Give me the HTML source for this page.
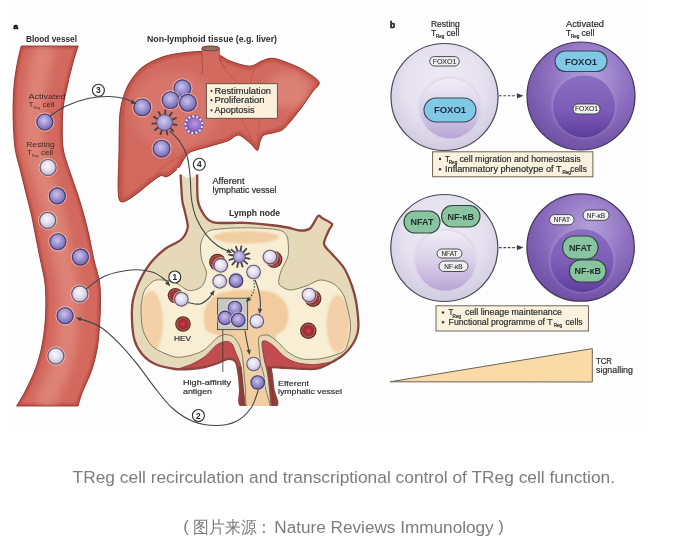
<!DOCTYPE html>
<html><head><meta charset="utf-8">
<style>
html,body{margin:0;padding:0;background:#fff;width:685px;height:549px;overflow:hidden}
svg{display:block;will-change:transform}
text{font-family:"Liberation Sans",sans-serif}
.lb{font-weight:bold;fill:#2b2b30}
.lt{fill:#2a2a2e;stroke:#2a2a2e;stroke-width:0.18}
.cap{fill:#7c7c7c;font-size:16.8px}
</style></head><body>
<svg width="685" height="549" viewBox="0 0 685 549">
<defs>
  <radialGradient id="gp" cx="0.45" cy="0.4" r="0.6">
    <stop offset="0" stop-color="#cac3ea"/>
    <stop offset="0.55" stop-color="#9a90cf"/>
    <stop offset="1" stop-color="#6f64ad"/>
  </radialGradient>
  <radialGradient id="gw" cx="0.45" cy="0.4" r="0.6">
    <stop offset="0" stop-color="#faf8fc"/>
    <stop offset="0.55" stop-color="#e2ddec"/>
    <stop offset="1" stop-color="#b9b0cf"/>
  </radialGradient>
  <radialGradient id="gapo" cx="0.55" cy="0.45" r="0.6">
    <stop offset="0" stop-color="#b89ae0"/>
    <stop offset="0.6" stop-color="#8a6ac6"/>
    <stop offset="1" stop-color="#6444a8"/>
  </radialGradient>
  <radialGradient id="ghev" cx="0.5" cy="0.5" r="0.5">
    <stop offset="0" stop-color="#e04848"/>
    <stop offset="0.55" stop-color="#b81e2a"/>
    <stop offset="0.75" stop-color="#d98a7a"/>
    <stop offset="1" stop-color="#7e2a22"/>
  </radialGradient>
  <radialGradient id="grest" cx="0.5" cy="0.4" r="0.62">
    <stop offset="0" stop-color="#efedf6"/>
    <stop offset="0.6" stop-color="#e5e1ef"/>
    <stop offset="1" stop-color="#cfc8df"/>
  </radialGradient>
  <linearGradient id="grestn" x1="0" y1="0" x2="0" y2="1">
    <stop offset="0" stop-color="#f0edf6"/>
    <stop offset="0.5" stop-color="#d9d0e9"/>
    <stop offset="1" stop-color="#b8a6d6"/>
  </linearGradient>
  <radialGradient id="gact" cx="0.58" cy="0.32" r="0.72">
    <stop offset="0" stop-color="#b5a2da"/>
    <stop offset="0.5" stop-color="#8f72c2"/>
    <stop offset="1" stop-color="#6c4da2"/>
  </radialGradient>
  <linearGradient id="gactn" x1="0" y1="0" x2="0" y2="1">
    <stop offset="0" stop-color="#8a6ec2"/>
    <stop offset="0.55" stop-color="#7c5cb6"/>
    <stop offset="1" stop-color="#5e3e9c"/>
  </linearGradient>
  <filter id="bl1" x="-50%" y="-50%" width="200%" height="200%"><feGaussianBlur stdDeviation="1.2"/></filter>
  <filter id="bl2" x="-50%" y="-50%" width="200%" height="200%"><feGaussianBlur stdDeviation="3"/></filter>
  <filter id="bl4" x="-50%" y="-50%" width="200%" height="200%"><feGaussianBlur stdDeviation="5"/></filter>
  <marker id="ah" viewBox="0 0 10 10" refX="8" refY="5" markerWidth="5.5" markerHeight="5.5" orient="auto-start-reverse" markerUnits="userSpaceOnUse">
    <path d="M0,1 L10,5 L0,9 Z" fill="#3f4842"/>
  </marker>
</defs>

<rect x="8" y="0" width="640" height="431.5" fill="#fefdfd"/>
<path d="M21.2,46.0 C20.6,48.7 18.7,55.7 17.5,62.0 C16.3,68.3 14.9,76.7 14.2,84.0 C13.5,91.3 13.2,98.7 13.1,106.0 C13.0,113.3 13.1,120.7 13.5,128.0 C13.9,135.3 14.1,142.7 15.3,150.0 C16.5,157.3 19.0,164.7 20.8,172.0 C22.6,179.3 24.4,186.7 26.2,194.0 C28.0,201.3 30.1,208.7 31.7,216.0 C33.3,223.3 34.5,230.7 36.0,238.0 C37.5,245.3 38.9,252.7 40.4,260.0 C41.9,267.3 43.9,274.7 44.8,282.0 C45.7,289.3 45.9,296.7 45.9,304.0 C45.9,311.3 45.5,318.7 44.8,326.0 C44.1,333.3 43.1,340.7 41.5,348.0 C39.9,355.3 37.8,362.6 35.0,370.0 C32.2,377.4 27.6,386.5 24.5,392.5 C21.4,398.5 17.9,403.8 16.6,406.0 L78.0,406.0 C78.7,403.8 80.0,398.5 82.3,392.5 C84.6,386.5 89.3,377.4 91.8,370.0 C94.3,362.6 96.0,355.3 97.3,348.0 C98.6,340.7 99.0,333.3 99.5,326.0 C100.0,318.7 100.5,311.3 100.5,304.0 C100.5,296.7 100.6,289.3 99.5,282.0 C98.4,274.7 95.7,267.3 94.0,260.0 C92.3,252.7 91.2,245.3 89.6,238.0 C88.0,230.7 86.2,223.3 84.2,216.0 C82.2,208.7 80.0,201.3 77.6,194.0 C75.2,186.7 72.4,179.3 70.0,172.0 C67.6,164.7 64.7,157.3 63.4,150.0 C62.1,142.7 62.3,135.3 62.3,128.0 C62.3,120.7 62.5,113.3 63.4,106.0 C64.3,98.7 66.2,91.3 67.8,84.0 C69.4,76.7 71.5,68.3 73.2,62.0 C74.9,55.7 77.4,48.7 78.2,46.0 Z" fill="#d3695e"/>
<clipPath id="vclip"><path d="M21.2,46.0 C20.6,48.7 18.7,55.7 17.5,62.0 C16.3,68.3 14.9,76.7 14.2,84.0 C13.5,91.3 13.2,98.7 13.1,106.0 C13.0,113.3 13.1,120.7 13.5,128.0 C13.9,135.3 14.1,142.7 15.3,150.0 C16.5,157.3 19.0,164.7 20.8,172.0 C22.6,179.3 24.4,186.7 26.2,194.0 C28.0,201.3 30.1,208.7 31.7,216.0 C33.3,223.3 34.5,230.7 36.0,238.0 C37.5,245.3 38.9,252.7 40.4,260.0 C41.9,267.3 43.9,274.7 44.8,282.0 C45.7,289.3 45.9,296.7 45.9,304.0 C45.9,311.3 45.5,318.7 44.8,326.0 C44.1,333.3 43.1,340.7 41.5,348.0 C39.9,355.3 37.8,362.6 35.0,370.0 C32.2,377.4 27.6,386.5 24.5,392.5 C21.4,398.5 17.9,403.8 16.6,406.0 L78.0,406.0 C78.7,403.8 80.0,398.5 82.3,392.5 C84.6,386.5 89.3,377.4 91.8,370.0 C94.3,362.6 96.0,355.3 97.3,348.0 C98.6,340.7 99.0,333.3 99.5,326.0 C100.0,318.7 100.5,311.3 100.5,304.0 C100.5,296.7 100.6,289.3 99.5,282.0 C98.4,274.7 95.7,267.3 94.0,260.0 C92.3,252.7 91.2,245.3 89.6,238.0 C88.0,230.7 86.2,223.3 84.2,216.0 C82.2,208.7 80.0,201.3 77.6,194.0 C75.2,186.7 72.4,179.3 70.0,172.0 C67.6,164.7 64.7,157.3 63.4,150.0 C62.1,142.7 62.3,135.3 62.3,128.0 C62.3,120.7 62.5,113.3 63.4,106.0 C64.3,98.7 66.2,91.3 67.8,84.0 C69.4,76.7 71.5,68.3 73.2,62.0 C74.9,55.7 77.4,48.7 78.2,46.0 Z"/></clipPath>
<g clip-path="url(#vclip)"><path d="M21.2,46.0 C20.6,48.7 18.7,55.7 17.5,62.0 C16.3,68.3 14.9,76.7 14.2,84.0 C13.5,91.3 13.2,98.7 13.1,106.0 C13.0,113.3 13.1,120.7 13.5,128.0 C13.9,135.3 14.1,142.7 15.3,150.0 C16.5,157.3 19.0,164.7 20.8,172.0 C22.6,179.3 24.4,186.7 26.2,194.0 C28.0,201.3 30.1,208.7 31.7,216.0 C33.3,223.3 34.5,230.7 36.0,238.0 C37.5,245.3 38.9,252.7 40.4,260.0 C41.9,267.3 43.9,274.7 44.8,282.0 C45.7,289.3 45.9,296.7 45.9,304.0 C45.9,311.3 45.5,318.7 44.8,326.0 C44.1,333.3 43.1,340.7 41.5,348.0 C39.9,355.3 37.8,362.6 35.0,370.0 C32.2,377.4 27.6,386.5 24.5,392.5 C21.4,398.5 17.9,403.8 16.6,406.0 L78.0,406.0 C78.7,403.8 80.0,398.5 82.3,392.5 C84.6,386.5 89.3,377.4 91.8,370.0 C94.3,362.6 96.0,355.3 97.3,348.0 C98.6,340.7 99.0,333.3 99.5,326.0 C100.0,318.7 100.5,311.3 100.5,304.0 C100.5,296.7 100.6,289.3 99.5,282.0 C98.4,274.7 95.7,267.3 94.0,260.0 C92.3,252.7 91.2,245.3 89.6,238.0 C88.0,230.7 86.2,223.3 84.2,216.0 C82.2,208.7 80.0,201.3 77.6,194.0 C75.2,186.7 72.4,179.3 70.0,172.0 C67.6,164.7 64.7,157.3 63.4,150.0 C62.1,142.7 62.3,135.3 62.3,128.0 C62.3,120.7 62.5,113.3 63.4,106.0 C64.3,98.7 66.2,91.3 67.8,84.0 C69.4,76.7 71.5,68.3 73.2,62.0 C74.9,55.7 77.4,48.7 78.2,46.0 Z" fill="none" stroke="#c04e46" stroke-width="5" filter="url(#bl1)"/><path d="M45.7,46.0 C45.0,48.7 42.8,55.7 41.4,62.0 C39.9,68.3 38.2,76.7 37.0,84.0 C35.8,91.3 34.8,98.7 34.2,106.0 C33.7,113.3 33.7,120.7 33.9,128.0 C34.1,135.3 34.1,142.7 35.4,150.0 C36.6,157.3 39.3,164.7 41.4,172.0 C43.5,179.3 45.8,186.7 47.9,194.0 C50.0,201.3 52.1,208.7 54.0,216.0 C55.8,223.3 57.3,230.7 58.8,238.0 C60.3,245.3 61.6,252.7 63.2,260.0 C64.8,267.3 67.2,274.7 68.2,282.0 C69.2,289.3 69.2,296.7 69.2,304.0 C69.2,311.3 68.8,318.7 68.2,326.0 C67.5,333.3 66.9,340.7 65.4,348.0 C63.9,355.3 62.1,362.6 59.4,370.0 C56.7,377.4 52.1,386.5 49.4,392.5 C46.7,398.5 44.3,403.8 43.3,406.0" fill="none" stroke="#e08a7e" stroke-width="20" filter="url(#bl4)" opacity="0.8"/></g>
<path d="M21.2,46.0 C20.6,48.7 18.7,55.7 17.5,62.0 C16.3,68.3 14.9,76.7 14.2,84.0 C13.5,91.3 13.2,98.7 13.1,106.0 C13.0,113.3 13.1,120.7 13.5,128.0 C13.9,135.3 14.1,142.7 15.3,150.0 C16.5,157.3 19.0,164.7 20.8,172.0 C22.6,179.3 24.4,186.7 26.2,194.0 C28.0,201.3 30.1,208.7 31.7,216.0 C33.3,223.3 34.5,230.7 36.0,238.0 C37.5,245.3 38.9,252.7 40.4,260.0 C41.9,267.3 43.9,274.7 44.8,282.0 C45.7,289.3 45.9,296.7 45.9,304.0 C45.9,311.3 45.5,318.7 44.8,326.0 C44.1,333.3 43.1,340.7 41.5,348.0 C39.9,355.3 37.8,362.6 35.0,370.0 C32.2,377.4 27.6,386.5 24.5,392.5 C21.4,398.5 17.9,403.8 16.6,406.0 L78.0,406.0 C78.7,403.8 80.0,398.5 82.3,392.5 C84.6,386.5 89.3,377.4 91.8,370.0 C94.3,362.6 96.0,355.3 97.3,348.0 C98.6,340.7 99.0,333.3 99.5,326.0 C100.0,318.7 100.5,311.3 100.5,304.0 C100.5,296.7 100.6,289.3 99.5,282.0 C98.4,274.7 95.7,267.3 94.0,260.0 C92.3,252.7 91.2,245.3 89.6,238.0 C88.0,230.7 86.2,223.3 84.2,216.0 C82.2,208.7 80.0,201.3 77.6,194.0 C75.2,186.7 72.4,179.3 70.0,172.0 C67.6,164.7 64.7,157.3 63.4,150.0 C62.1,142.7 62.3,135.3 62.3,128.0 C62.3,120.7 62.5,113.3 63.4,106.0 C64.3,98.7 66.2,91.3 67.8,84.0 C69.4,76.7 71.5,68.3 73.2,62.0 C74.9,55.7 77.4,48.7 78.2,46.0 Z" fill="none" stroke="#8f3a31" stroke-width="0.9"/>
<circle cx="44.8" cy="122.0" r="9.1" fill="none" stroke="#f3d9cf" stroke-width="1.2" opacity="0.55"/><circle cx="44.8" cy="122.0" r="8.0" fill="url(#gp)" stroke="#443a72" stroke-width="1.1"/>
<circle cx="48.1" cy="167.5" r="9.1" fill="none" stroke="#f3d9cf" stroke-width="1.2" opacity="0.55"/><circle cx="48.1" cy="167.5" r="8.0" fill="url(#gw)" stroke="#625a72" stroke-width="1.1"/>
<circle cx="57.3" cy="195.9" r="9.1" fill="none" stroke="#f3d9cf" stroke-width="1.2" opacity="0.55"/><circle cx="57.3" cy="195.9" r="8.0" fill="url(#gp)" stroke="#443a72" stroke-width="1.1"/>
<circle cx="47.7" cy="220.4" r="9.1" fill="none" stroke="#f3d9cf" stroke-width="1.2" opacity="0.55"/><circle cx="47.7" cy="220.4" r="8.0" fill="url(#gw)" stroke="#625a72" stroke-width="1.1"/>
<circle cx="57.9" cy="241.8" r="9.1" fill="none" stroke="#f3d9cf" stroke-width="1.2" opacity="0.55"/><circle cx="57.9" cy="241.8" r="8.0" fill="url(#gp)" stroke="#443a72" stroke-width="1.1"/>
<circle cx="80.4" cy="257.1" r="9.1" fill="none" stroke="#f3d9cf" stroke-width="1.2" opacity="0.55"/><circle cx="80.4" cy="257.1" r="8.0" fill="url(#gp)" stroke="#443a72" stroke-width="1.1"/>
<circle cx="79.8" cy="293.9" r="9.1" fill="none" stroke="#f3d9cf" stroke-width="1.2" opacity="0.55"/><circle cx="79.8" cy="293.9" r="8.0" fill="url(#gw)" stroke="#625a72" stroke-width="1.1"/>
<circle cx="65.1" cy="315.7" r="9.1" fill="none" stroke="#f3d9cf" stroke-width="1.2" opacity="0.55"/><circle cx="65.1" cy="315.7" r="8.0" fill="url(#gp)" stroke="#443a72" stroke-width="1.1"/>
<circle cx="55.9" cy="356.0" r="9.1" fill="none" stroke="#f3d9cf" stroke-width="1.2" opacity="0.55"/><circle cx="55.9" cy="356.0" r="8.0" fill="url(#gw)" stroke="#625a72" stroke-width="1.1"/>
<text x="28.4" y="99" font-size="8" fill="#402a26" textLength="37" lengthAdjust="spacingAndGlyphs">Activated</text>
<text x="28.4" y="106.7" font-size="8" fill="#402a26">T</text><text x="33.5" y="108.5" font-size="3.5" fill="#402a26">Reg</text><text x="42.6" y="106.7" font-size="8" fill="#402a26">cell</text>
<text x="26.2" y="147" font-size="8" fill="#402a26" textLength="28.4" lengthAdjust="spacingAndGlyphs">Resting</text>
<text x="27" y="154.8" font-size="8" fill="#402a26">T</text><text x="32" y="156.6" font-size="3.5" fill="#402a26">Reg</text><text x="41" y="154.8" font-size="8" fill="#402a26">cell</text>
<text x="13.6" y="28.8" class="lb" font-size="8" fill="#111" stroke="#111" stroke-width="0.7">a</text>
<text x="26" y="42" class="lb" font-size="8.8" textLength="51" lengthAdjust="spacingAndGlyphs">Blood vessel</text>
<text x="147" y="42" class="lb" font-size="8.8" textLength="130" lengthAdjust="spacingAndGlyphs">Non-lymphoid tissue (e.g. liver)</text>
<path d="M202.0,51.5 C208.2,51.7 214.8,53.6 219.0,55.0 C223.2,56.4 225.4,59.3 230.0,61.0 C234.6,62.7 244.8,66.3 249.7,66.2 C254.6,66.1 259.1,61.7 262.8,60.5 C266.5,59.3 269.4,57.6 274.3,58.4 C279.2,59.2 290.4,63.8 295.6,66.0 C300.8,68.2 305.1,70.9 308.7,73.4 C312.3,75.9 318.8,79.7 319.3,82.6 C319.8,85.5 314.8,88.6 312.0,92.5 C309.2,96.4 304.7,103.5 300.5,108.9 C296.3,114.3 287.8,125.0 284.0,128.5 C280.2,132.0 278.4,131.3 275.4,132.3 C272.4,133.3 266.3,133.8 264.0,135.1 C261.7,136.4 261.2,138.7 260.2,141.0 C259.2,143.3 258.9,150.0 257.4,150.3 C255.9,150.6 252.8,145.3 250.0,143.0 C247.2,140.7 241.7,135.4 238.4,135.1 C235.1,134.8 232.4,139.1 228.0,140.8 C223.6,142.5 214.7,144.8 209.0,146.5 C203.3,148.2 193.8,150.2 190.0,152.2 C186.2,154.2 185.1,157.7 183.4,160.0 C181.7,162.3 181.3,165.0 178.9,167.5 C176.5,170.0 170.1,175.4 167.4,176.6 C164.7,177.8 163.3,174.8 160.8,175.7 C158.3,176.6 154.9,179.3 151.0,182.3 C147.1,185.3 139.0,192.4 134.6,195.4 C130.2,198.4 124.0,202.7 121.5,202.0 C119.0,201.3 118.6,197.9 118.2,190.5 C117.8,183.1 118.8,163.6 119.0,152.8 C119.2,142.0 119.1,126.1 119.6,118.3 C120.1,110.5 120.9,106.1 122.3,101.0 C123.7,95.9 125.8,89.0 128.7,84.0 C131.6,79.0 136.8,71.9 141.4,68.0 C146.0,64.1 154.1,60.2 159.6,58.0 C165.1,55.8 171.6,54.5 178.0,53.5 C184.4,52.5 195.8,51.3 202.0,51.5 Z" fill="#d1695f"/>
<clipPath id="lclip"><path d="M202.0,51.5 C208.2,51.7 214.8,53.6 219.0,55.0 C223.2,56.4 225.4,59.3 230.0,61.0 C234.6,62.7 244.8,66.3 249.7,66.2 C254.6,66.1 259.1,61.7 262.8,60.5 C266.5,59.3 269.4,57.6 274.3,58.4 C279.2,59.2 290.4,63.8 295.6,66.0 C300.8,68.2 305.1,70.9 308.7,73.4 C312.3,75.9 318.8,79.7 319.3,82.6 C319.8,85.5 314.8,88.6 312.0,92.5 C309.2,96.4 304.7,103.5 300.5,108.9 C296.3,114.3 287.8,125.0 284.0,128.5 C280.2,132.0 278.4,131.3 275.4,132.3 C272.4,133.3 266.3,133.8 264.0,135.1 C261.7,136.4 261.2,138.7 260.2,141.0 C259.2,143.3 258.9,150.0 257.4,150.3 C255.9,150.6 252.8,145.3 250.0,143.0 C247.2,140.7 241.7,135.4 238.4,135.1 C235.1,134.8 232.4,139.1 228.0,140.8 C223.6,142.5 214.7,144.8 209.0,146.5 C203.3,148.2 193.8,150.2 190.0,152.2 C186.2,154.2 185.1,157.7 183.4,160.0 C181.7,162.3 181.3,165.0 178.9,167.5 C176.5,170.0 170.1,175.4 167.4,176.6 C164.7,177.8 163.3,174.8 160.8,175.7 C158.3,176.6 154.9,179.3 151.0,182.3 C147.1,185.3 139.0,192.4 134.6,195.4 C130.2,198.4 124.0,202.7 121.5,202.0 C119.0,201.3 118.6,197.9 118.2,190.5 C117.8,183.1 118.8,163.6 119.0,152.8 C119.2,142.0 119.1,126.1 119.6,118.3 C120.1,110.5 120.9,106.1 122.3,101.0 C123.7,95.9 125.8,89.0 128.7,84.0 C131.6,79.0 136.8,71.9 141.4,68.0 C146.0,64.1 154.1,60.2 159.6,58.0 C165.1,55.8 171.6,54.5 178.0,53.5 C184.4,52.5 195.8,51.3 202.0,51.5 Z"/></clipPath>
<g clip-path="url(#lclip)">
<path d="M202.0,51.5 C208.2,51.7 214.8,53.6 219.0,55.0 C223.2,56.4 225.4,59.3 230.0,61.0 C234.6,62.7 244.8,66.3 249.7,66.2 C254.6,66.1 259.1,61.7 262.8,60.5 C266.5,59.3 269.4,57.6 274.3,58.4 C279.2,59.2 290.4,63.8 295.6,66.0 C300.8,68.2 305.1,70.9 308.7,73.4 C312.3,75.9 318.8,79.7 319.3,82.6 C319.8,85.5 314.8,88.6 312.0,92.5 C309.2,96.4 304.7,103.5 300.5,108.9 C296.3,114.3 287.8,125.0 284.0,128.5 C280.2,132.0 278.4,131.3 275.4,132.3 C272.4,133.3 266.3,133.8 264.0,135.1 C261.7,136.4 261.2,138.7 260.2,141.0 C259.2,143.3 258.9,150.0 257.4,150.3 C255.9,150.6 252.8,145.3 250.0,143.0 C247.2,140.7 241.7,135.4 238.4,135.1 C235.1,134.8 232.4,139.1 228.0,140.8 C223.6,142.5 214.7,144.8 209.0,146.5 C203.3,148.2 193.8,150.2 190.0,152.2 C186.2,154.2 185.1,157.7 183.4,160.0 C181.7,162.3 181.3,165.0 178.9,167.5 C176.5,170.0 170.1,175.4 167.4,176.6 C164.7,177.8 163.3,174.8 160.8,175.7 C158.3,176.6 154.9,179.3 151.0,182.3 C147.1,185.3 139.0,192.4 134.6,195.4 C130.2,198.4 124.0,202.7 121.5,202.0 C119.0,201.3 118.6,197.9 118.2,190.5 C117.8,183.1 118.8,163.6 119.0,152.8 C119.2,142.0 119.1,126.1 119.6,118.3 C120.1,110.5 120.9,106.1 122.3,101.0 C123.7,95.9 125.8,89.0 128.7,84.0 C131.6,79.0 136.8,71.9 141.4,68.0 C146.0,64.1 154.1,60.2 159.6,58.0 C165.1,55.8 171.6,54.5 178.0,53.5 C184.4,52.5 195.8,51.3 202.0,51.5 Z" fill="none" stroke="#c2524a" stroke-width="7" filter="url(#bl1)"/>
<ellipse cx="175" cy="110" rx="45" ry="40" fill="#dc8074" filter="url(#bl4)" opacity="0.55"/>
<ellipse cx="288" cy="90" rx="22" ry="18" fill="#df887c" filter="url(#bl4)" opacity="0.8"/>
<path d="M120,60 C125,150 122,190 121,205" fill="none" stroke="#c85548" stroke-width="6" filter="url(#bl2)" opacity="0.6"/>
<path d="M219,55 C222,66 226,74 240,84 C250,95 248,110 242,120" fill="none" stroke="#b8544a" stroke-width="0.7"/>
<path d="M262.8,60.5 C252,70 248,78 253,95 C258,112 262,125 257,136" fill="none" stroke="#b8544a" stroke-width="0.7"/>
<path d="M202,52 C203,62 204,68 201,75" fill="none" stroke="#b8544a" stroke-width="0.7"/>
<path d="M151,182.3 C156,170 170,160 185,155 C200,150 215,147 235,138" fill="none" stroke="#b8544a" stroke-width="0.7"/>
<path d="M242,119 C246,128 250,136 257,150" fill="none" stroke="#b8544a" stroke-width="0.6"/>
</g>
<path d="M202.0,51.5 C208.2,51.7 214.8,53.6 219.0,55.0 C223.2,56.4 225.4,59.3 230.0,61.0 C234.6,62.7 244.8,66.3 249.7,66.2 C254.6,66.1 259.1,61.7 262.8,60.5 C266.5,59.3 269.4,57.6 274.3,58.4 C279.2,59.2 290.4,63.8 295.6,66.0 C300.8,68.2 305.1,70.9 308.7,73.4 C312.3,75.9 318.8,79.7 319.3,82.6 C319.8,85.5 314.8,88.6 312.0,92.5 C309.2,96.4 304.7,103.5 300.5,108.9 C296.3,114.3 287.8,125.0 284.0,128.5 C280.2,132.0 278.4,131.3 275.4,132.3 C272.4,133.3 266.3,133.8 264.0,135.1 C261.7,136.4 261.2,138.7 260.2,141.0 C259.2,143.3 258.9,150.0 257.4,150.3 C255.9,150.6 252.8,145.3 250.0,143.0 C247.2,140.7 241.7,135.4 238.4,135.1 C235.1,134.8 232.4,139.1 228.0,140.8 C223.6,142.5 214.7,144.8 209.0,146.5 C203.3,148.2 193.8,150.2 190.0,152.2 C186.2,154.2 185.1,157.7 183.4,160.0 C181.7,162.3 181.3,165.0 178.9,167.5 C176.5,170.0 170.1,175.4 167.4,176.6 C164.7,177.8 163.3,174.8 160.8,175.7 C158.3,176.6 154.9,179.3 151.0,182.3 C147.1,185.3 139.0,192.4 134.6,195.4 C130.2,198.4 124.0,202.7 121.5,202.0 C119.0,201.3 118.6,197.9 118.2,190.5 C117.8,183.1 118.8,163.6 119.0,152.8 C119.2,142.0 119.1,126.1 119.6,118.3 C120.1,110.5 120.9,106.1 122.3,101.0 C123.7,95.9 125.8,89.0 128.7,84.0 C131.6,79.0 136.8,71.9 141.4,68.0 C146.0,64.1 154.1,60.2 159.6,58.0 C165.1,55.8 171.6,54.5 178.0,53.5 C184.4,52.5 195.8,51.3 202.0,51.5 Z" fill="none" stroke="#93392f" stroke-width="1"/>
<path d="M202,48.5 L202,60 C203,66 202.5,70 201.8,74 L221,74 C220,68 220,62 219.3,48.5 Z" fill="#d1695f"/>
<path d="M202,48.5 L202,60 C203,66 202.5,70 201.8,74" fill="none" stroke="#a8473e" stroke-width="0.8"/>
<path d="M219.3,48.5 L219.5,58 C220,63 222,66 226.4,67.3" fill="none" stroke="#a8473e" stroke-width="0.8"/>
<ellipse cx="210.6" cy="48.4" rx="8.7" ry="2.3" fill="#a0685a" stroke="#5e5244" stroke-width="1.1"/>
<rect x="206.4" y="83.7" width="71" height="34.6" fill="#f9efdb" stroke="#5a4b42" stroke-width="0.9"/>
<circle cx="211.5" cy="91.1" r="1.1" fill="#3a3a3a"/>
<text x="214.5" y="93.7" font-size="8.6" class="lt" textLength="56.5" lengthAdjust="spacingAndGlyphs">Restimulation</text>
<circle cx="211.5" cy="100.2" r="1.1" fill="#3a3a3a"/>
<text x="214.5" y="102.8" font-size="8.6" class="lt" textLength="50.0" lengthAdjust="spacingAndGlyphs">Proliferation</text>
<circle cx="211.5" cy="110.3" r="1.1" fill="#3a3a3a"/>
<text x="214.5" y="112.9" font-size="8.6" class="lt" textLength="40.0" lengthAdjust="spacingAndGlyphs">Apoptosis</text>
<line x1="172.4" y1="124.2" x2="176.6" y2="125.0" stroke="#45404a" stroke-width="1.8" stroke-linecap="round"/><line x1="170.3" y1="128.2" x2="173.3" y2="131.1" stroke="#45404a" stroke-width="1.8" stroke-linecap="round"/><line x1="166.4" y1="130.4" x2="167.4" y2="134.5" stroke="#45404a" stroke-width="1.8" stroke-linecap="round"/><line x1="161.9" y1="130.1" x2="160.5" y2="134.1" stroke="#45404a" stroke-width="1.8" stroke-linecap="round"/><line x1="158.3" y1="127.5" x2="154.9" y2="130.0" stroke="#45404a" stroke-width="1.8" stroke-linecap="round"/><line x1="156.6" y1="123.3" x2="152.4" y2="123.6" stroke="#45404a" stroke-width="1.8" stroke-linecap="round"/><line x1="157.5" y1="118.9" x2="153.8" y2="116.9" stroke="#45404a" stroke-width="1.8" stroke-linecap="round"/><line x1="160.7" y1="115.6" x2="158.6" y2="112.0" stroke="#45404a" stroke-width="1.8" stroke-linecap="round"/><line x1="165.1" y1="114.6" x2="165.3" y2="110.4" stroke="#45404a" stroke-width="1.8" stroke-linecap="round"/><line x1="169.3" y1="116.1" x2="171.8" y2="112.7" stroke="#45404a" stroke-width="1.8" stroke-linecap="round"/><line x1="172.1" y1="119.7" x2="176.0" y2="118.2" stroke="#45404a" stroke-width="1.8" stroke-linecap="round"/><circle cx="164.6" cy="122.6" r="8.0" fill="url(#gp)" stroke="#4a3f6a" stroke-width="0.6"/><circle cx="164.6" cy="122.6" r="7.2" fill="#ffffff" opacity="0.18"/>
<circle cx="193.8" cy="124.6" r="8.9" fill="url(#gapo)" stroke="#4a3480" stroke-width="1"/>
<circle cx="201.8" cy="127.1" r="1.5" fill="#eae4f6" stroke="#5e4a98" stroke-width="0.5"/>
<circle cx="199.8" cy="130.5" r="1.5" fill="#eae4f6" stroke="#5e4a98" stroke-width="0.5"/>
<circle cx="196.3" cy="132.6" r="1.5" fill="#eae4f6" stroke="#5e4a98" stroke-width="0.5"/>
<circle cx="192.3" cy="132.9" r="1.5" fill="#eae4f6" stroke="#5e4a98" stroke-width="0.5"/>
<circle cx="188.6" cy="131.2" r="1.5" fill="#eae4f6" stroke="#5e4a98" stroke-width="0.5"/>
<circle cx="186.1" cy="128.1" r="1.5" fill="#eae4f6" stroke="#5e4a98" stroke-width="0.5"/>
<circle cx="185.4" cy="124.1" r="1.5" fill="#eae4f6" stroke="#5e4a98" stroke-width="0.5"/>
<circle cx="186.6" cy="120.3" r="1.5" fill="#eae4f6" stroke="#5e4a98" stroke-width="0.5"/>
<circle cx="189.4" cy="117.4" r="1.5" fill="#eae4f6" stroke="#5e4a98" stroke-width="0.5"/>
<circle cx="193.3" cy="116.2" r="1.5" fill="#eae4f6" stroke="#5e4a98" stroke-width="0.5"/>
<circle cx="197.2" cy="116.9" r="1.5" fill="#eae4f6" stroke="#5e4a98" stroke-width="0.5"/>
<circle cx="200.4" cy="119.4" r="1.5" fill="#eae4f6" stroke="#5e4a98" stroke-width="0.5"/>
<circle cx="202.1" cy="123.1" r="1.5" fill="#eae4f6" stroke="#5e4a98" stroke-width="0.5"/>
<circle cx="182.4" cy="88.3" r="9.5" fill="none" stroke="#f3d9cf" stroke-width="1.2" opacity="0.55"/><circle cx="182.4" cy="88.3" r="8.4" fill="url(#gp)" stroke="#443a72" stroke-width="1.1"/>
<circle cx="170.6" cy="100.1" r="9.5" fill="none" stroke="#f3d9cf" stroke-width="1.2" opacity="0.55"/><circle cx="170.6" cy="100.1" r="8.4" fill="url(#gp)" stroke="#443a72" stroke-width="1.1"/>
<circle cx="187.9" cy="102.8" r="9.5" fill="none" stroke="#f3d9cf" stroke-width="1.2" opacity="0.55"/><circle cx="187.9" cy="102.8" r="8.4" fill="url(#gp)" stroke="#443a72" stroke-width="1.1"/>
<circle cx="142.3" cy="107.4" r="9.5" fill="none" stroke="#f3d9cf" stroke-width="1.2" opacity="0.55"/><circle cx="142.3" cy="107.4" r="8.4" fill="url(#gp)" stroke="#443a72" stroke-width="1.1"/>
<circle cx="161.6" cy="148.7" r="9.5" fill="none" stroke="#f3d9cf" stroke-width="1.2" opacity="0.55"/><circle cx="161.6" cy="148.7" r="8.4" fill="url(#gp)" stroke="#443a72" stroke-width="1.1"/>
<clipPath id="ncut"><rect x="0" y="174.6" width="685" height="231.3"/></clipPath><g clip-path="url(#ncut)">
<path d="M197.2,168.0 C197.3,172.3 196.9,193.7 197.8,200.0 C198.7,206.3 202.2,212.3 204.3,215.3 C206.4,218.3 209.9,221.3 213.3,222.3 C216.7,223.3 225.8,222.9 230.0,223.0 C234.2,223.1 239.7,222.5 245.0,222.8 C250.3,223.1 264.3,224.4 270.0,225.0 C275.7,225.6 283.6,226.8 287.6,227.5 C291.6,228.2 297.0,230.4 300.0,230.5 C303.0,230.6 307.6,230.4 310.0,228.5 C312.4,226.6 316.4,217.4 318.0,216.0 C319.6,214.6 320.1,216.9 322.0,218.0 C323.9,219.1 331.1,222.4 332.0,224.0 C332.9,225.6 330.1,227.3 329.0,230.0 C327.9,232.7 323.6,240.8 324.0,244.0 C324.4,247.2 329.3,250.8 332.0,254.0 C334.7,257.2 341.3,263.7 344.0,268.0 C346.7,272.3 350.3,281.2 352.0,286.0 C353.7,290.8 355.7,298.4 356.5,304.0 C357.3,309.6 358.7,322.8 358.3,328.0 C357.9,333.2 355.6,339.3 353.4,343.0 C351.2,346.7 346.5,352.6 341.9,356.0 C337.3,359.4 324.6,366.5 319.2,368.2 C313.8,369.9 306.4,368.9 301.7,368.8 C297.0,368.7 288.2,368.0 284.2,367.8 C280.2,367.6 273.2,366.5 271.5,367.5 C269.8,368.5 271.5,372.0 271.8,375.0 C272.1,378.0 273.0,385.9 273.5,390.0 C274.0,394.1 280.0,403.9 275.8,406.0 C271.6,408.1 246.4,408.1 241.7,406.0 C237.0,403.9 240.6,394.1 240.2,390.0 C239.8,385.9 239.4,378.7 238.8,375.0 C238.2,371.3 237.4,364.1 236.0,362.0 C234.6,359.9 231.0,358.7 228.4,358.9 C225.8,359.1 219.8,362.4 216.7,363.5 C213.6,364.6 208.6,366.3 205.0,367.0 C201.4,367.7 194.0,368.7 190.0,369.0 C186.0,369.3 179.7,369.7 175.0,369.0 C170.3,368.3 159.4,366.0 155.0,364.0 C150.6,362.0 144.7,357.2 142.0,354.0 C139.3,350.8 135.8,344.5 134.5,340.0 C133.2,335.5 132.2,325.3 132.0,320.0 C131.8,314.7 131.9,305.3 133.0,300.0 C134.1,294.7 137.7,284.9 140.0,280.0 C142.3,275.1 147.2,267.1 150.5,263.0 C153.8,258.9 161.7,251.6 165.0,249.0 C168.3,246.4 172.8,244.7 175.0,243.4 C177.2,242.1 179.9,240.9 181.4,239.5 C182.9,238.1 185.1,234.9 186.0,233.0 C186.9,231.1 188.0,228.6 187.8,225.5 C187.6,222.4 185.2,213.4 184.5,210.0 C183.8,206.6 182.8,205.6 182.2,200.0 C181.6,194.4 180.5,172.3 180.2,168.0 Z" fill="#e6d9ba"/>
<clipPath id="nclip"><path d="M197.2,168.0 C197.3,172.3 196.9,193.7 197.8,200.0 C198.7,206.3 202.2,212.3 204.3,215.3 C206.4,218.3 209.9,221.3 213.3,222.3 C216.7,223.3 225.8,222.9 230.0,223.0 C234.2,223.1 239.7,222.5 245.0,222.8 C250.3,223.1 264.3,224.4 270.0,225.0 C275.7,225.6 283.6,226.8 287.6,227.5 C291.6,228.2 297.0,230.4 300.0,230.5 C303.0,230.6 307.6,230.4 310.0,228.5 C312.4,226.6 316.4,217.4 318.0,216.0 C319.6,214.6 320.1,216.9 322.0,218.0 C323.9,219.1 331.1,222.4 332.0,224.0 C332.9,225.6 330.1,227.3 329.0,230.0 C327.9,232.7 323.6,240.8 324.0,244.0 C324.4,247.2 329.3,250.8 332.0,254.0 C334.7,257.2 341.3,263.7 344.0,268.0 C346.7,272.3 350.3,281.2 352.0,286.0 C353.7,290.8 355.7,298.4 356.5,304.0 C357.3,309.6 358.7,322.8 358.3,328.0 C357.9,333.2 355.6,339.3 353.4,343.0 C351.2,346.7 346.5,352.6 341.9,356.0 C337.3,359.4 324.6,366.5 319.2,368.2 C313.8,369.9 306.4,368.9 301.7,368.8 C297.0,368.7 288.2,368.0 284.2,367.8 C280.2,367.6 273.2,366.5 271.5,367.5 C269.8,368.5 271.5,372.0 271.8,375.0 C272.1,378.0 273.0,385.9 273.5,390.0 C274.0,394.1 280.0,403.9 275.8,406.0 C271.6,408.1 246.4,408.1 241.7,406.0 C237.0,403.9 240.6,394.1 240.2,390.0 C239.8,385.9 239.4,378.7 238.8,375.0 C238.2,371.3 237.4,364.1 236.0,362.0 C234.6,359.9 231.0,358.7 228.4,358.9 C225.8,359.1 219.8,362.4 216.7,363.5 C213.6,364.6 208.6,366.3 205.0,367.0 C201.4,367.7 194.0,368.7 190.0,369.0 C186.0,369.3 179.7,369.7 175.0,369.0 C170.3,368.3 159.4,366.0 155.0,364.0 C150.6,362.0 144.7,357.2 142.0,354.0 C139.3,350.8 135.8,344.5 134.5,340.0 C133.2,335.5 132.2,325.3 132.0,320.0 C131.8,314.7 131.9,305.3 133.0,300.0 C134.1,294.7 137.7,284.9 140.0,280.0 C142.3,275.1 147.2,267.1 150.5,263.0 C153.8,258.9 161.7,251.6 165.0,249.0 C168.3,246.4 172.8,244.7 175.0,243.4 C177.2,242.1 179.9,240.9 181.4,239.5 C182.9,238.1 185.1,234.9 186.0,233.0 C186.9,231.1 188.0,228.6 187.8,225.5 C187.6,222.4 185.2,213.4 184.5,210.0 C183.8,206.6 182.8,205.6 182.2,200.0 C181.6,194.4 180.5,172.3 180.2,168.0 Z"/></clipPath>
<g clip-path="url(#nclip)">
<path d="M180.0,372.0 C181.3,371.9 186.7,371.4 190.0,371.0 C193.3,370.6 201.4,369.7 205.0,369.0 C208.6,368.3 213.6,366.6 216.7,365.5 C219.8,364.4 225.8,361.2 228.4,361.0 C231.0,360.8 234.6,360.1 236.0,364.0 C237.4,367.9 238.3,383.9 239.0,390.0 C239.7,396.1 240.7,407.3 241.0,410.0 L246.0,410.0 C245.7,407.3 244.2,396.0 243.5,390.0 C242.8,384.0 241.6,370.1 240.5,365.0 C239.4,359.9 236.5,354.7 235.4,351.9 C234.3,349.1 233.2,345.1 231.9,343.7 C230.6,342.3 228.0,341.2 226.0,341.4 C224.0,341.6 219.5,342.9 216.7,344.9 C213.9,346.9 208.3,354.0 205.0,356.5 C201.7,359.0 195.6,362.3 192.0,364.0 C188.4,365.7 179.9,368.3 178.0,369.0 Z" fill="#c24c50"/>
<path d="M246.0,410.0 C245.7,407.3 244.2,396.0 243.5,390.0 C242.8,384.0 241.6,370.1 240.5,365.0 C239.4,359.9 236.5,354.7 235.4,351.9 C234.3,349.1 233.2,345.1 231.9,343.7 C230.6,342.3 228.0,341.2 226.0,341.4 C224.0,341.6 219.5,342.9 216.7,344.9 C213.9,346.9 208.3,354.0 205.0,356.5 C201.7,359.0 195.6,362.3 192.0,364.0 C188.4,365.7 179.9,368.3 178.0,369.0" fill="none" stroke="#8a3a36" stroke-width="0.9"/>
<path d="M237,366 L241.5,367 L243.5,390 L245,410 L241,410 L239.5,390 Z" fill="#8a3c36"/>
<path d="M279.0,410.0 C278.3,406.7 275.1,390.6 274.0,385.0 C272.9,379.4 269.6,370.2 271.0,368.0 C272.4,365.8 280.1,368.1 284.2,368.5 C288.3,368.9 297.0,370.6 301.7,370.8 C306.4,371.0 314.8,370.7 319.2,370.2 C323.6,369.7 331.6,367.9 335.0,366.7 C338.4,365.5 343.7,361.8 345.0,361.0 L340.0,358.0 C339.3,358.4 338.5,360.3 335.0,361.2 C331.5,362.1 318.6,364.5 313.4,364.7 C308.2,364.9 299.8,363.5 295.9,362.4 C292.0,361.3 287.2,358.7 284.2,356.5 C281.2,354.3 276.0,348.0 273.7,346.0 C271.4,344.0 268.3,341.9 266.7,341.4 C265.1,340.9 262.3,340.0 262.0,342.5 C261.7,345.0 263.5,355.7 264.3,360.0 C265.1,364.3 266.8,368.3 267.8,375.0 C268.8,381.7 271.0,405.3 271.5,410.0 Z" fill="#c24c50"/>
<path d="M340.0,358.0 C339.3,358.4 338.5,360.3 335.0,361.2 C331.5,362.1 318.6,364.5 313.4,364.7 C308.2,364.9 299.8,363.5 295.9,362.4 C292.0,361.3 287.2,358.7 284.2,356.5 C281.2,354.3 276.0,348.0 273.7,346.0 C271.4,344.0 268.3,341.9 266.7,341.4 C265.1,340.9 262.3,340.0 262.0,342.5 C261.7,345.0 263.5,355.7 264.3,360.0 C265.1,364.3 266.8,368.3 267.8,375.0 C268.8,381.7 271.0,405.3 271.5,410.0" fill="none" stroke="#8a3a36" stroke-width="0.9"/>
<path d="M267,366 L271,367 L273.5,390 L276.5,410 L272.3,410 L269.8,385 Z" fill="#8a3c36"/>
<path d="M203.5,236.5 C204.8,234.4 207.0,231.6 210.0,230.5 C213.0,229.4 221.3,228.9 226.0,228.5 C230.7,228.1 239.7,227.8 245.0,227.8 C250.3,227.8 261.1,228.1 266.0,228.5 C270.9,228.9 279.1,229.7 282.0,231.0 C284.9,232.3 286.8,235.1 287.6,238.4 C288.4,241.7 288.9,251.7 288.0,256.0 C287.1,260.3 282.2,267.3 281.0,271.0 C279.8,274.7 277.8,281.5 279.0,284.0 C280.2,286.5 286.4,289.7 290.0,290.0 C293.6,290.3 302.0,287.3 306.0,286.0 C310.0,284.7 316.3,280.3 320.0,280.0 C323.7,279.7 330.8,281.9 334.0,284.0 C337.2,286.1 341.9,291.2 344.0,296.0 C346.1,300.8 349.2,314.9 350.0,320.0 C350.8,325.1 350.7,330.0 350.0,334.0 C349.3,338.0 347.0,347.2 345.0,350.0 C343.0,352.8 338.4,353.8 335.0,355.0 C331.6,356.2 323.6,358.4 319.2,358.9 C314.8,359.4 305.9,359.8 301.7,358.9 C297.5,358.0 290.8,354.1 287.7,351.9 C284.6,349.7 280.9,344.7 278.4,342.5 C275.9,340.3 271.2,336.4 269.0,335.5 C266.8,334.6 263.4,335.0 262.0,335.5 C260.6,336.0 258.7,335.7 258.5,339.0 C258.3,342.3 259.6,355.2 260.3,360.0 C261.0,364.8 263.0,371.0 263.8,375.0 C264.6,379.0 265.2,385.3 266.0,390.0 C266.8,394.7 271.9,407.3 269.5,410.0 C267.1,412.7 251.2,412.7 248.0,410.0 C244.8,407.3 246.0,394.7 245.5,390.0 C245.0,385.3 244.6,379.6 244.2,375.0 C243.8,370.4 243.1,359.5 242.4,355.4 C241.7,351.3 240.2,347.0 238.9,344.5 C237.6,342.0 234.9,337.8 233.0,336.5 C231.1,335.2 227.1,334.3 224.9,334.5 C222.7,334.7 219.4,336.0 216.7,338.0 C214.0,340.0 208.3,347.1 205.0,349.4 C201.7,351.7 196.0,354.0 192.0,355.0 C188.0,356.0 180.2,358.1 175.0,357.0 C169.8,355.9 157.3,350.6 153.0,347.0 C148.7,343.4 144.6,335.2 143.0,330.0 C141.4,324.8 140.9,312.9 141.0,308.0 C141.1,303.1 142.6,295.9 143.5,293.0 C144.4,290.1 146.3,287.7 148.0,286.0 C149.7,284.3 152.6,280.6 156.0,280.0 C159.4,279.4 169.3,280.4 173.7,281.8 C178.1,283.2 185.2,290.0 189.0,290.6 C192.8,291.2 199.7,288.5 202.0,286.2 C204.3,283.9 206.5,276.5 206.5,273.0 C206.5,269.5 202.6,263.6 201.8,260.0 C201.0,256.4 200.3,249.1 200.5,246.0 C200.7,242.9 202.2,238.6 203.5,236.5 Z" fill="#f7eed4"/>
<clipPath id="cclip"><path d="M203.5,236.5 C204.8,234.4 207.0,231.6 210.0,230.5 C213.0,229.4 221.3,228.9 226.0,228.5 C230.7,228.1 239.7,227.8 245.0,227.8 C250.3,227.8 261.1,228.1 266.0,228.5 C270.9,228.9 279.1,229.7 282.0,231.0 C284.9,232.3 286.8,235.1 287.6,238.4 C288.4,241.7 288.9,251.7 288.0,256.0 C287.1,260.3 282.2,267.3 281.0,271.0 C279.8,274.7 277.8,281.5 279.0,284.0 C280.2,286.5 286.4,289.7 290.0,290.0 C293.6,290.3 302.0,287.3 306.0,286.0 C310.0,284.7 316.3,280.3 320.0,280.0 C323.7,279.7 330.8,281.9 334.0,284.0 C337.2,286.1 341.9,291.2 344.0,296.0 C346.1,300.8 349.2,314.9 350.0,320.0 C350.8,325.1 350.7,330.0 350.0,334.0 C349.3,338.0 347.0,347.2 345.0,350.0 C343.0,352.8 338.4,353.8 335.0,355.0 C331.6,356.2 323.6,358.4 319.2,358.9 C314.8,359.4 305.9,359.8 301.7,358.9 C297.5,358.0 290.8,354.1 287.7,351.9 C284.6,349.7 280.9,344.7 278.4,342.5 C275.9,340.3 271.2,336.4 269.0,335.5 C266.8,334.6 263.4,335.0 262.0,335.5 C260.6,336.0 258.7,335.7 258.5,339.0 C258.3,342.3 259.6,355.2 260.3,360.0 C261.0,364.8 263.0,371.0 263.8,375.0 C264.6,379.0 265.2,385.3 266.0,390.0 C266.8,394.7 271.9,407.3 269.5,410.0 C267.1,412.7 251.2,412.7 248.0,410.0 C244.8,407.3 246.0,394.7 245.5,390.0 C245.0,385.3 244.6,379.6 244.2,375.0 C243.8,370.4 243.1,359.5 242.4,355.4 C241.7,351.3 240.2,347.0 238.9,344.5 C237.6,342.0 234.9,337.8 233.0,336.5 C231.1,335.2 227.1,334.3 224.9,334.5 C222.7,334.7 219.4,336.0 216.7,338.0 C214.0,340.0 208.3,347.1 205.0,349.4 C201.7,351.7 196.0,354.0 192.0,355.0 C188.0,356.0 180.2,358.1 175.0,357.0 C169.8,355.9 157.3,350.6 153.0,347.0 C148.7,343.4 144.6,335.2 143.0,330.0 C141.4,324.8 140.9,312.9 141.0,308.0 C141.1,303.1 142.6,295.9 143.5,293.0 C144.4,290.1 146.3,287.7 148.0,286.0 C149.7,284.3 152.6,280.6 156.0,280.0 C159.4,279.4 169.3,280.4 173.7,281.8 C178.1,283.2 185.2,290.0 189.0,290.6 C192.8,291.2 199.7,288.5 202.0,286.2 C204.3,283.9 206.5,276.5 206.5,273.0 C206.5,269.5 202.6,263.6 201.8,260.0 C201.0,256.4 200.3,249.1 200.5,246.0 C200.7,242.9 202.2,238.6 203.5,236.5 Z"/></clipPath>
<g clip-path="url(#cclip)">
<ellipse cx="246" cy="237.2" rx="33" ry="6.3" fill="#f1cda2" filter="url(#bl1)"/>
<path d="M206,330 C200,315 206,296 224,292 C236,289 258,289 270,292 C290,297 292,318 284,330 C275,338 265,334 258,340 L236,340 C228,334 215,338 206,330 Z" fill="#f2cb9e" filter="url(#bl1)"/>
<ellipse cx="151" cy="322" rx="12" ry="31" fill="#f2c89c" filter="url(#bl1)" opacity="0.8"/>
<ellipse cx="338" cy="324" rx="11.5" ry="29" fill="#f2c89c" filter="url(#bl1)" opacity="0.8"/>
<rect x="236" y="330" width="40" height="85" fill="#f2cfa0"/>
</g>
<path d="M203.5,236.5 C204.8,234.4 207.0,231.6 210.0,230.5 C213.0,229.4 221.3,228.9 226.0,228.5 C230.7,228.1 239.7,227.8 245.0,227.8 C250.3,227.8 261.1,228.1 266.0,228.5 C270.9,228.9 279.1,229.7 282.0,231.0 C284.9,232.3 286.8,235.1 287.6,238.4 C288.4,241.7 288.9,251.7 288.0,256.0 C287.1,260.3 282.2,267.3 281.0,271.0 C279.8,274.7 277.8,281.5 279.0,284.0 C280.2,286.5 286.4,289.7 290.0,290.0 C293.6,290.3 302.0,287.3 306.0,286.0 C310.0,284.7 316.3,280.3 320.0,280.0 C323.7,279.7 330.8,281.9 334.0,284.0 C337.2,286.1 341.9,291.2 344.0,296.0 C346.1,300.8 349.2,314.9 350.0,320.0 C350.8,325.1 350.7,330.0 350.0,334.0 C349.3,338.0 347.0,347.2 345.0,350.0 C343.0,352.8 338.4,353.8 335.0,355.0 C331.6,356.2 323.6,358.4 319.2,358.9 C314.8,359.4 305.9,359.8 301.7,358.9 C297.5,358.0 290.8,354.1 287.7,351.9 C284.6,349.7 280.9,344.7 278.4,342.5 C275.9,340.3 271.2,336.4 269.0,335.5 C266.8,334.6 263.4,335.0 262.0,335.5 C260.6,336.0 258.7,335.7 258.5,339.0 C258.3,342.3 259.6,355.2 260.3,360.0 C261.0,364.8 263.0,371.0 263.8,375.0 C264.6,379.0 265.2,385.3 266.0,390.0 C266.8,394.7 271.9,407.3 269.5,410.0 C267.1,412.7 251.2,412.7 248.0,410.0 C244.8,407.3 246.0,394.7 245.5,390.0 C245.0,385.3 244.6,379.6 244.2,375.0 C243.8,370.4 243.1,359.5 242.4,355.4 C241.7,351.3 240.2,347.0 238.9,344.5 C237.6,342.0 234.9,337.8 233.0,336.5 C231.1,335.2 227.1,334.3 224.9,334.5 C222.7,334.7 219.4,336.0 216.7,338.0 C214.0,340.0 208.3,347.1 205.0,349.4 C201.7,351.7 196.0,354.0 192.0,355.0 C188.0,356.0 180.2,358.1 175.0,357.0 C169.8,355.9 157.3,350.6 153.0,347.0 C148.7,343.4 144.6,335.2 143.0,330.0 C141.4,324.8 140.9,312.9 141.0,308.0 C141.1,303.1 142.6,295.9 143.5,293.0 C144.4,290.1 146.3,287.7 148.0,286.0 C149.7,284.3 152.6,280.6 156.0,280.0 C159.4,279.4 169.3,280.4 173.7,281.8 C178.1,283.2 185.2,290.0 189.0,290.6 C192.8,291.2 199.7,288.5 202.0,286.2 C204.3,283.9 206.5,276.5 206.5,273.0 C206.5,269.5 202.6,263.6 201.8,260.0 C201.0,256.4 200.3,249.1 200.5,246.0 C200.7,242.9 202.2,238.6 203.5,236.5 Z" fill="none" stroke="#66664e" stroke-width="0.8"/>
</g>
<path d="M197.2,168.0 C197.3,172.3 196.9,193.7 197.8,200.0 C198.7,206.3 202.2,212.3 204.3,215.3 C206.4,218.3 209.9,221.3 213.3,222.3 C216.7,223.3 225.8,222.9 230.0,223.0 C234.2,223.1 239.7,222.5 245.0,222.8 C250.3,223.1 264.3,224.4 270.0,225.0 C275.7,225.6 283.6,226.8 287.6,227.5 C291.6,228.2 297.0,230.4 300.0,230.5 C303.0,230.6 307.6,230.4 310.0,228.5 C312.4,226.6 316.4,217.4 318.0,216.0 C319.6,214.6 320.1,216.9 322.0,218.0 C323.9,219.1 331.1,222.4 332.0,224.0 C332.9,225.6 330.1,227.3 329.0,230.0 C327.9,232.7 323.6,240.8 324.0,244.0 C324.4,247.2 329.3,250.8 332.0,254.0 C334.7,257.2 341.3,263.7 344.0,268.0 C346.7,272.3 350.3,281.2 352.0,286.0 C353.7,290.8 355.7,298.4 356.5,304.0 C357.3,309.6 358.7,322.8 358.3,328.0 C357.9,333.2 355.6,339.3 353.4,343.0 C351.2,346.7 346.5,352.6 341.9,356.0 C337.3,359.4 324.6,366.5 319.2,368.2 C313.8,369.9 306.4,368.9 301.7,368.8 C297.0,368.7 288.2,368.0 284.2,367.8 C280.2,367.6 273.2,366.5 271.5,367.5 C269.8,368.5 271.5,372.0 271.8,375.0 C272.1,378.0 273.0,385.9 273.5,390.0 C274.0,394.1 280.0,403.9 275.8,406.0 C271.6,408.1 246.4,408.1 241.7,406.0 C237.0,403.9 240.6,394.1 240.2,390.0 C239.8,385.9 239.4,378.7 238.8,375.0 C238.2,371.3 237.4,364.1 236.0,362.0 C234.6,359.9 231.0,358.7 228.4,358.9 C225.8,359.1 219.8,362.4 216.7,363.5 C213.6,364.6 208.6,366.3 205.0,367.0 C201.4,367.7 194.0,368.7 190.0,369.0 C186.0,369.3 179.7,369.7 175.0,369.0 C170.3,368.3 159.4,366.0 155.0,364.0 C150.6,362.0 144.7,357.2 142.0,354.0 C139.3,350.8 135.8,344.5 134.5,340.0 C133.2,335.5 132.2,325.3 132.0,320.0 C131.8,314.7 131.9,305.3 133.0,300.0 C134.1,294.7 137.7,284.9 140.0,280.0 C142.3,275.1 147.2,267.1 150.5,263.0 C153.8,258.9 161.7,251.6 165.0,249.0 C168.3,246.4 172.8,244.7 175.0,243.4 C177.2,242.1 179.9,240.9 181.4,239.5 C182.9,238.1 185.1,234.9 186.0,233.0 C186.9,231.1 188.0,228.6 187.8,225.5 C187.6,222.4 185.2,213.4 184.5,210.0 C183.8,206.6 182.8,205.6 182.2,200.0 C181.6,194.4 180.5,172.3 180.2,168.0 Z" fill="none" stroke="#8a453e" stroke-width="2.3" stroke-linejoin="round"/>
</g>
<path d="M177,173.2 L181.5,173.6 L183.2,176 Q189,179.5 194.6,176 L196,173.8 L200,173.4 L200,168 L177,168 Z" fill="#fff"/>
<circle cx="175.3" cy="295.6" r="7.6" fill="#5e2a22"/><circle cx="175.3" cy="295.6" r="6.5" fill="#8c3c38"/><circle cx="175.3" cy="295.6" r="5.9" fill="none" stroke="#e0a898" stroke-width="0.9" stroke-dasharray="0.9,1.3"/><circle cx="175.3" cy="295.6" r="4.6" fill="#a82832"/><circle cx="175.3" cy="295.6" r="2.3" fill="#d84a52" filter="url(#bl1)" opacity="0.7"/>
<circle cx="183.0" cy="324.0" r="7.8" fill="#5e2a22"/><circle cx="183.0" cy="324.0" r="6.7" fill="#8c3c38"/><circle cx="183.0" cy="324.0" r="6.1" fill="none" stroke="#e0a898" stroke-width="0.9" stroke-dasharray="0.9,1.3"/><circle cx="183.0" cy="324.0" r="4.7" fill="#a82832"/><circle cx="183.0" cy="324.0" r="2.3" fill="#d84a52" filter="url(#bl1)" opacity="0.7"/>
<circle cx="217.5" cy="262.2" r="8.4" fill="#5e2a22"/><circle cx="217.5" cy="262.2" r="7.3" fill="#8c3c38"/><circle cx="217.5" cy="262.2" r="6.6" fill="none" stroke="#e0a898" stroke-width="0.9" stroke-dasharray="0.9,1.3"/><circle cx="217.5" cy="262.2" r="5.0" fill="#a82832"/><circle cx="217.5" cy="262.2" r="2.5" fill="#d84a52" filter="url(#bl1)" opacity="0.7"/>
<circle cx="274.0" cy="259.5" r="8.4" fill="#5e2a22"/><circle cx="274.0" cy="259.5" r="7.3" fill="#8c3c38"/><circle cx="274.0" cy="259.5" r="6.6" fill="none" stroke="#e0a898" stroke-width="0.9" stroke-dasharray="0.9,1.3"/><circle cx="274.0" cy="259.5" r="5.0" fill="#a82832"/><circle cx="274.0" cy="259.5" r="2.5" fill="#d84a52" filter="url(#bl1)" opacity="0.7"/>
<circle cx="313.0" cy="298.5" r="8.4" fill="#5e2a22"/><circle cx="313.0" cy="298.5" r="7.3" fill="#8c3c38"/><circle cx="313.0" cy="298.5" r="6.6" fill="none" stroke="#e0a898" stroke-width="0.9" stroke-dasharray="0.9,1.3"/><circle cx="313.0" cy="298.5" r="5.0" fill="#a82832"/><circle cx="313.0" cy="298.5" r="2.5" fill="#d84a52" filter="url(#bl1)" opacity="0.7"/>
<circle cx="308.3" cy="330.7" r="8.2" fill="#5e2a22"/><circle cx="308.3" cy="330.7" r="7.1" fill="#8c3c38"/><circle cx="308.3" cy="330.7" r="6.4" fill="none" stroke="#e0a898" stroke-width="0.9" stroke-dasharray="0.9,1.3"/><circle cx="308.3" cy="330.7" r="4.9" fill="#a82832"/><circle cx="308.3" cy="330.7" r="2.5" fill="#d84a52" filter="url(#bl1)" opacity="0.7"/>
<circle cx="181.4" cy="299.3" r="7.9" fill="none" stroke="#f3d9cf" stroke-width="1.2" opacity="0.55"/><circle cx="181.4" cy="299.3" r="6.8" fill="url(#gw)" stroke="#625a72" stroke-width="1.1"/>
<circle cx="220.8" cy="265.4" r="7.9" fill="none" stroke="#f3d9cf" stroke-width="1.2" opacity="0.55"/><circle cx="220.8" cy="265.4" r="6.8" fill="url(#gw)" stroke="#625a72" stroke-width="1.1"/>
<circle cx="270.0" cy="257.0" r="7.9" fill="none" stroke="#f3d9cf" stroke-width="1.2" opacity="0.55"/><circle cx="270.0" cy="257.0" r="6.8" fill="url(#gw)" stroke="#625a72" stroke-width="1.1"/>
<circle cx="309.0" cy="295.0" r="7.9" fill="none" stroke="#f3d9cf" stroke-width="1.2" opacity="0.55"/><circle cx="309.0" cy="295.0" r="6.8" fill="url(#gw)" stroke="#625a72" stroke-width="1.1"/>
<circle cx="219.7" cy="281.4" r="7.9" fill="none" stroke="#f3d9cf" stroke-width="1.2" opacity="0.55"/><circle cx="219.7" cy="281.4" r="6.8" fill="url(#gw)" stroke="#625a72" stroke-width="1.1"/>
<circle cx="253.6" cy="272.0" r="7.9" fill="none" stroke="#f3d9cf" stroke-width="1.2" opacity="0.55"/><circle cx="253.6" cy="272.0" r="6.8" fill="url(#gw)" stroke="#625a72" stroke-width="1.1"/>
<circle cx="256.8" cy="321.2" r="7.9" fill="none" stroke="#f3d9cf" stroke-width="1.2" opacity="0.55"/><circle cx="256.8" cy="321.2" r="6.8" fill="url(#gw)" stroke="#625a72" stroke-width="1.1"/>
<circle cx="253.6" cy="364.0" r="7.9" fill="none" stroke="#f3d9cf" stroke-width="1.2" opacity="0.55"/><circle cx="253.6" cy="364.0" r="6.8" fill="url(#gw)" stroke="#625a72" stroke-width="1.1"/>
<circle cx="236.0" cy="280.7" r="7.9" fill="none" stroke="#f3d9cf" stroke-width="1.2" opacity="0.55"/><circle cx="236.0" cy="280.7" r="6.8" fill="url(#gp)" stroke="#443a72" stroke-width="1.1"/>
<circle cx="257.7" cy="382.5" r="7.9" fill="none" stroke="#f3d9cf" stroke-width="1.2" opacity="0.55"/><circle cx="257.7" cy="382.5" r="6.8" fill="url(#gp)" stroke="#443a72" stroke-width="1.1"/>
<line x1="245.2" y1="257.9" x2="249.6" y2="258.8" stroke="#45404a" stroke-width="1.8" stroke-linecap="round"/><line x1="243.8" y1="260.7" x2="247.2" y2="263.7" stroke="#45404a" stroke-width="1.8" stroke-linecap="round"/><line x1="241.2" y1="262.4" x2="242.6" y2="266.7" stroke="#45404a" stroke-width="1.8" stroke-linecap="round"/><line x1="238.1" y1="262.6" x2="237.2" y2="267.0" stroke="#45404a" stroke-width="1.8" stroke-linecap="round"/><line x1="235.3" y1="261.2" x2="232.3" y2="264.6" stroke="#45404a" stroke-width="1.8" stroke-linecap="round"/><line x1="233.6" y1="258.6" x2="229.3" y2="260.0" stroke="#45404a" stroke-width="1.8" stroke-linecap="round"/><line x1="233.4" y1="255.5" x2="229.0" y2="254.6" stroke="#45404a" stroke-width="1.8" stroke-linecap="round"/><line x1="234.8" y1="252.7" x2="231.4" y2="249.7" stroke="#45404a" stroke-width="1.8" stroke-linecap="round"/><line x1="237.4" y1="251.0" x2="236.0" y2="246.7" stroke="#45404a" stroke-width="1.8" stroke-linecap="round"/><line x1="240.5" y1="250.8" x2="241.4" y2="246.4" stroke="#45404a" stroke-width="1.8" stroke-linecap="round"/><line x1="243.3" y1="252.2" x2="246.3" y2="248.8" stroke="#45404a" stroke-width="1.8" stroke-linecap="round"/><line x1="245.0" y1="254.8" x2="249.3" y2="253.4" stroke="#45404a" stroke-width="1.8" stroke-linecap="round"/><circle cx="239.3" cy="256.7" r="6.0" fill="url(#gp)" stroke="#4a3f6a" stroke-width="0.6"/><circle cx="239.3" cy="256.7" r="5.4" fill="#ffffff" opacity="0.18"/>
<rect x="217.5" y="298.2" width="30.1" height="31.4" fill="#c6c9c0" stroke="#474747" stroke-width="0.9"/>
<circle cx="235.0" cy="308.0" r="7.9" fill="none" stroke="#f3d9cf" stroke-width="1.2" opacity="0.55"/><circle cx="235.0" cy="308.0" r="6.8" fill="url(#gp)" stroke="#443a72" stroke-width="1.1"/>
<circle cx="225.1" cy="317.9" r="7.9" fill="none" stroke="#f3d9cf" stroke-width="1.2" opacity="0.55"/><circle cx="225.1" cy="317.9" r="6.8" fill="url(#gp)" stroke="#443a72" stroke-width="1.1"/>
<circle cx="238.3" cy="320.1" r="7.9" fill="none" stroke="#f3d9cf" stroke-width="1.2" opacity="0.55"/><circle cx="238.3" cy="320.1" r="6.8" fill="url(#gp)" stroke="#443a72" stroke-width="1.1"/>
<path d="M50.0,116.0 C52.7,114.3 59.7,108.9 66.0,106.0 C72.3,103.1 80.7,100.1 88.0,98.5 C95.3,96.9 103.7,96.4 110.0,96.5 C116.3,96.6 121.8,97.8 126.0,99.0 C130.2,100.2 133.9,102.8 135.5,103.5" fill="none" stroke="#3f4842" stroke-width="1.1" marker-end="url(#ah)"/>
<path d="M170.0,131.0 C171.7,132.8 177.2,137.8 180.0,142.0 C182.8,146.2 185.3,150.5 187.0,156.0 C188.7,161.5 189.2,167.7 190.0,175.0 C190.8,182.3 190.5,192.7 191.6,200.0 C192.7,207.3 194.1,213.1 196.7,219.0 C199.2,224.9 203.3,231.2 206.9,235.7 C210.5,240.2 214.0,243.2 218.0,246.0 C222.0,248.8 228.8,251.4 231.0,252.5" fill="none" stroke="#3f4842" stroke-width="1.1" marker-end="url(#ah)"/>
<path d="M86.0,289.0 C89.2,286.8 97.5,279.2 105.0,276.0 C112.5,272.8 123.2,270.7 131.0,270.0 C138.8,269.3 146.5,270.5 152.0,272.0 C157.5,273.5 161.1,276.8 164.0,279.0 C166.9,281.2 168.6,284.4 169.5,285.5" fill="none" stroke="#3f4842" stroke-width="1.1" marker-end="url(#ah)"/>
<path d="M188.0,302.5 C190.0,302.8 196.5,304.8 200.0,304.0 C203.5,303.2 206.7,300.2 209.0,298.0 C211.3,295.8 213.2,292.2 214.0,291.0" fill="none" stroke="#3f4842" stroke-width="1.1" marker-end="url(#ah)"/>
<path d="M254.0,280.0 C254.0,281.7 254.7,287.0 254.0,290.0 C253.3,293.0 251.2,296.1 250.0,298.0 C248.8,299.9 247.1,300.9 246.5,301.5" fill="none" stroke="#3f4842" stroke-width="1.1" marker-end="url(#ah)" stroke-dasharray="1.6,1.4"/>
<path d="M255.0,280.0 C255.7,282.0 258.1,288.0 259.0,292.0 C259.9,296.0 260.4,300.5 260.5,304.0 C260.6,307.5 259.7,311.5 259.5,313.0" fill="none" stroke="#3f4842" stroke-width="1.1" marker-end="url(#ah)"/>
<path d="M245.0,330.5 C245.3,332.4 246.2,338.1 247.0,342.0 C247.8,345.9 249.1,352.0 249.5,354.0" fill="none" stroke="#3f4842" stroke-width="1.1" marker-end="url(#ah)"/>
<path d="M258.3,390.0 C257.1,393.0 254.7,402.8 251.0,408.0 C247.3,413.2 242.2,418.3 236.4,421.2 C230.6,424.1 223.3,425.5 216.0,425.5 C208.7,425.5 199.9,424.1 192.6,421.2 C185.3,418.3 178.5,413.6 172.2,408.0 C165.9,402.4 160.5,394.9 154.7,387.6 C148.9,380.3 143.0,371.5 137.2,364.2 C131.3,356.9 125.9,350.1 119.6,343.8 C113.3,337.5 106.3,330.6 99.2,326.3 C92.1,322.0 80.7,319.4 77.0,318.0" fill="none" stroke="#3f4842" stroke-width="1.1" marker-end="url(#ah)"/>
<circle cx="98.4" cy="90.3" r="6" fill="#fff" stroke="#2e2e2e" stroke-width="1.1"/><text x="98.4" y="93.3" font-size="8.4" font-weight="bold" fill="#222" text-anchor="middle">3</text>
<circle cx="199.3" cy="164.3" r="6" fill="#fff" stroke="#2e2e2e" stroke-width="1.1"/><text x="199.3" y="167.3" font-size="8.4" font-weight="bold" fill="#222" text-anchor="middle">4</text>
<circle cx="174.8" cy="277.0" r="6" fill="#fff" stroke="#2e2e2e" stroke-width="1.1"/><text x="174.8" y="280.0" font-size="8.4" font-weight="bold" fill="#222" text-anchor="middle">1</text>
<circle cx="198.4" cy="415.5" r="6" fill="#fff" stroke="#2e2e2e" stroke-width="1.1"/><text x="198.4" y="418.5" font-size="8.4" font-weight="bold" fill="#222" text-anchor="middle">2</text>
<line x1="222.8" y1="329.6" x2="222.8" y2="372" stroke="#3a3a3a" stroke-width="0.8"/>
<text x="212.5" y="184" font-size="8.4" class="lt" textLength="32" lengthAdjust="spacingAndGlyphs">Afferent</text>
<text x="212.5" y="192.5" font-size="8.4" class="lt" textLength="64" lengthAdjust="spacingAndGlyphs">lymphatic vessel</text>
<text x="229" y="216.4" font-size="8.8" class="lb" textLength="51" lengthAdjust="spacingAndGlyphs">Lymph node</text>
<text x="174" y="341" font-size="8" class="lt" textLength="17" lengthAdjust="spacingAndGlyphs">HEV</text>
<text x="183" y="385" font-size="8" class="lt" textLength="48" lengthAdjust="spacingAndGlyphs">High-affinity</text>
<text x="183" y="393.6" font-size="8" class="lt" textLength="29" lengthAdjust="spacingAndGlyphs">antigen</text>
<text x="278" y="385.6" font-size="8" class="lt" textLength="31" lengthAdjust="spacingAndGlyphs">Efferent</text>
<text x="278" y="394.4" font-size="8" class="lt" textLength="64" lengthAdjust="spacingAndGlyphs">lymphatic vessel</text>
<text x="390" y="28.4" class="lb" font-size="8.5" fill="#111" stroke="#111" stroke-width="0.5">b</text>
<text x="431.0" y="27.2" font-size="8.6" class="lt" textLength="28.7" lengthAdjust="spacingAndGlyphs">Resting</text><text x="431.0" y="35.8" font-size="8.6" class="lt">T</text><text x="436.0" y="38.2" font-size="4.6" class="lt">Reg</text><text x="446.5" y="35.8" font-size="8.6" class="lt">cell</text>
<text x="566.0" y="27.2" font-size="8.6" class="lt" textLength="38.0" lengthAdjust="spacingAndGlyphs">Activated</text><text x="566.0" y="35.8" font-size="8.6" class="lt">T</text><text x="571.0" y="38.2" font-size="4.6" class="lt">Reg</text><text x="581.5" y="35.8" font-size="8.6" class="lt">cell</text>
<circle cx="444.5" cy="97.0" r="53.5" fill="url(#grest)" stroke="#4a4852" stroke-width="1.2"/><circle cx="450.0" cy="108.5" r="32.0" fill="#d6cfe6" filter="url(#bl1)" opacity="0.6"/><circle cx="450.0" cy="108.5" r="30.0" fill="url(#grestn)"/>
<circle cx="581.0" cy="96.0" r="54.0" fill="url(#gact)" stroke="#40365a" stroke-width="1.2"/><circle cx="584.0" cy="105.5" r="32.5" fill="#a892d2" filter="url(#bl1)" opacity="0.55"/><circle cx="584.0" cy="106.5" r="31.0" fill="url(#gactn)"/>
<circle cx="444.3" cy="248.0" r="53.5" fill="url(#grest)" stroke="#4a4852" stroke-width="1.2"/><circle cx="445.5" cy="260.7" r="32.0" fill="#d6cfe6" filter="url(#bl1)" opacity="0.6"/><circle cx="445.5" cy="260.7" r="30.0" fill="url(#grestn)"/>
<circle cx="580.6" cy="247.5" r="53.7" fill="url(#gact)" stroke="#40365a" stroke-width="1.2"/><circle cx="582.0" cy="259.7" r="33.0" fill="#a892d2" filter="url(#bl1)" opacity="0.55"/><circle cx="582.0" cy="260.7" r="31.5" fill="url(#gactn)"/>
<rect x="429.7" y="56.6" width="29.6" height="9.4" rx="4.7" fill="#f1f1f3" stroke="#3a3a3e" stroke-width="0.9"/><text x="444.5" y="63.8" font-size="7.0" fill="#333" text-anchor="middle" stroke="#333" stroke-width="0.12">FOXO1</text>
<rect x="424.0" y="98.0" width="52.0" height="24.0" rx="12.0" fill="#80c8e3" stroke="#34495a" stroke-width="1.1"/><text x="450.0" y="113.4" font-size="9.5" fill="#1c2a40" text-anchor="middle" font-weight="bold">FOXO1</text>
<rect x="555.0" y="51.0" width="52.0" height="20.5" rx="10.2" fill="#80c8e3" stroke="#34495a" stroke-width="1.1"/><text x="581.0" y="64.7" font-size="9.5" fill="#1c2a40" text-anchor="middle" font-weight="bold">FOXO1</text>
<rect x="573.0" y="104.0" width="27.0" height="10.0" rx="5.0" fill="#f1f1f3" stroke="#3a3a3e" stroke-width="0.9"/><text x="586.5" y="111.4" font-size="6.8" fill="#333" text-anchor="middle" stroke="#333" stroke-width="0.12">FOXO1</text>
<rect x="404.0" y="211.0" width="36.0" height="22.0" rx="11.0" fill="#88c49f" stroke="#2c4636" stroke-width="1.1"/><text x="422.0" y="225.2" font-size="9.0" fill="#1e2e26" text-anchor="middle" font-weight="bold">NFAT</text>
<rect x="441.5" y="205.5" width="38.5" height="21.5" rx="10.8" fill="#88c49f" stroke="#2c4636" stroke-width="1.1"/><text x="460.8" y="219.5" font-size="9.0" fill="#1e2e26" text-anchor="middle" font-weight="bold">NF-κB</text>
<rect x="437.0" y="249.0" width="25.0" height="9.0" rx="4.5" fill="#f1f1f3" stroke="#3a3a3e" stroke-width="0.9"/><text x="449.5" y="255.8" font-size="6.5" fill="#333" text-anchor="middle" stroke="#333" stroke-width="0.12">NFAT</text>
<rect x="439.0" y="261.0" width="29.0" height="10.5" rx="5.2" fill="#f1f1f3" stroke="#3a3a3e" stroke-width="0.9"/><text x="453.5" y="268.6" font-size="6.5" fill="#333" text-anchor="middle" stroke="#333" stroke-width="0.12">NF-κB</text>
<rect x="549.6" y="214.6" width="24.4" height="10.2" rx="5.1" fill="#f1f1f3" stroke="#3a3a3e" stroke-width="0.9"/><text x="561.8" y="222.0" font-size="6.5" fill="#333" text-anchor="middle" stroke="#333" stroke-width="0.12">NFAT</text>
<rect x="583.0" y="210.0" width="26.0" height="10.3" rx="5.2" fill="#f1f1f3" stroke="#3a3a3e" stroke-width="0.9"/><text x="596.0" y="217.5" font-size="6.5" fill="#333" text-anchor="middle" stroke="#333" stroke-width="0.12">NF-κB</text>
<rect x="562.6" y="236.0" width="35.4" height="23.0" rx="11.5" fill="#88c49f" stroke="#2c4636" stroke-width="1.1"/><text x="580.3" y="250.7" font-size="9.0" fill="#1e2e26" text-anchor="middle" font-weight="bold">NFAT</text>
<rect x="569.4" y="260.0" width="36.6" height="22.0" rx="11.0" fill="#88c49f" stroke="#2c4636" stroke-width="1.1"/><text x="587.7" y="274.2" font-size="9.0" fill="#1e2e26" text-anchor="middle" font-weight="bold">NF-κB</text>
<line x1="499" y1="95.8" x2="519" y2="95.8" stroke="#3e3e48" stroke-width="1.1" stroke-dasharray="2.6,1.8"/>
<path d="M517,93.2 L523.5,95.8 L517,98.4 Z" fill="#3e3e48"/>
<line x1="499" y1="247.6" x2="519" y2="247.6" stroke="#3e3e48" stroke-width="1.1" stroke-dasharray="2.6,1.8"/>
<path d="M517,245.0 L523.5,247.6 L517,250.2 Z" fill="#3e3e48"/>
<rect x="432.6" y="151.8" width="160.3" height="25.0" fill="#faf2de" stroke="#5e5449" stroke-width="0.9"/><circle cx="440.0" cy="159.0" r="1.2" fill="#333"/><text x="445.0" y="161.8" font-size="8.8" class="lt" textLength="4.8" lengthAdjust="spacingAndGlyphs">T</text><text x="448.8" y="164.2" font-size="4.6" class="lt">Reg</text><text x="459.4" y="161.8" font-size="8.8" class="lt" textLength="121.4" lengthAdjust="spacingAndGlyphs">cell migration and homeostasis</text><circle cx="440.0" cy="169.2" r="1.2" fill="#333"/><text x="445.0" y="172.0" font-size="8.8" class="lt" textLength="116.5" lengthAdjust="spacingAndGlyphs">Inflammatory phenotype of T</text><text x="562.5" y="174.4" font-size="4.6" class="lt">Reg</text><text x="570.3" y="172.0" font-size="8.8" class="lt" textLength="16.5" lengthAdjust="spacingAndGlyphs">cells</text>
<rect x="436.0" y="305.8" width="152.4" height="25.2" fill="#faf2de" stroke="#5e5449" stroke-width="0.9"/><circle cx="443.0" cy="312.5" r="1.2" fill="#333"/><text x="448.6" y="315.3" font-size="8.8" class="lt" textLength="4.8" lengthAdjust="spacingAndGlyphs">T</text><text x="452.6" y="317.7" font-size="4.6" class="lt">Reg</text><text x="465.0" y="315.3" font-size="8.8" class="lt" textLength="97.0" lengthAdjust="spacingAndGlyphs">cell lineage maintenance</text><circle cx="443.0" cy="322.2" r="1.2" fill="#333"/><text x="448.6" y="325.0" font-size="8.8" class="lt" textLength="104.0" lengthAdjust="spacingAndGlyphs">Functional programme of T</text><text x="553.7" y="327.4" font-size="4.6" class="lt">Reg</text><text x="565.6" y="325.0" font-size="8.8" class="lt" textLength="17.0" lengthAdjust="spacingAndGlyphs">cells</text>
<path d="M390,381.8 L592.3,348.6 L592.3,382 Z" fill="#f9dba7" stroke="#6b6254" stroke-width="1" stroke-linejoin="miter"/>
<text x="596" y="364" font-size="8.6" class="lt" textLength="16" lengthAdjust="spacingAndGlyphs">TCR</text>
<text x="596" y="372.6" font-size="8.6" class="lt" textLength="37" lengthAdjust="spacingAndGlyphs">signalling</text>
<text x="72.6" y="482.8" class="cap" textLength="542.5" lengthAdjust="spacingAndGlyphs">TReg cell recirculation and transcriptional control of TReg cell function.</text>
<text x="183.2" y="532.4" class="cap">(</text>
<text x="193.2" y="532.6" class="cap" textLength="79" lengthAdjust="spacingAndGlyphs">图片来源：</text>
<text x="274.3" y="532.6" class="cap" textLength="219.4" lengthAdjust="spacingAndGlyphs">Nature Reviews Immunology</text>
<text x="498.3" y="532.4" class="cap">)</text>
</svg></body></html>
